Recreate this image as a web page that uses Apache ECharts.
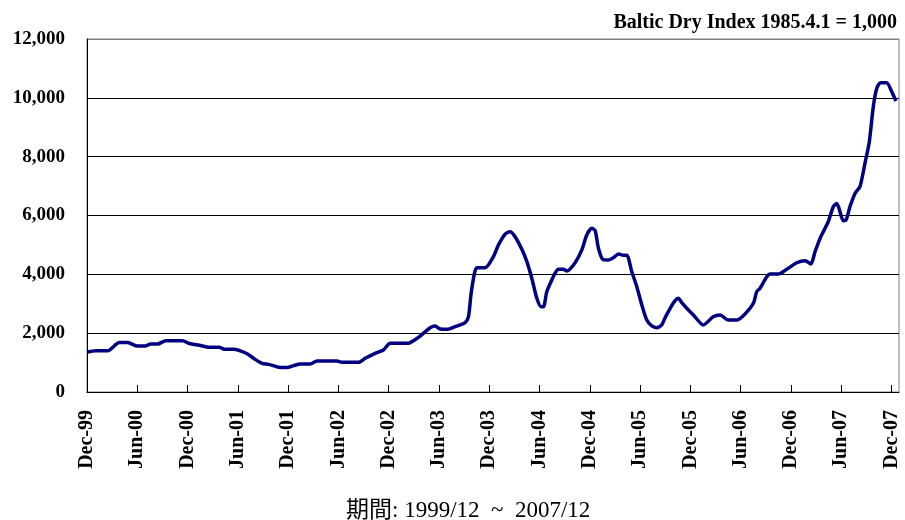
<!DOCTYPE html>
<html>
<head>
<meta charset="utf-8">
<title>Baltic Dry Index</title>
<script src="https://cdn.jsdelivr.net/npm/echarts@6/dist/echarts.min.js"></script>
<style>
  html, body { margin: 0; padding: 0; background: #fff; }
  #chart { width: 905px; height: 520px; }
</style>
</head>
<body>
<div id="chart"></div>
<script>
// x = months since Dec-99
const months = [
  0, 1.07, 2.46, 3.85, 4.84, 6.04, 6.84, 7.63, 8.42, 9.42, 11.40, 12.20, 13.40, 14.59, 15.78,
  16.38, 17.57, 18.37, 19.16, 19.96, 20.88, 21.66, 22.26, 23.06, 23.86, 24.65, 25.44, 26.64,
  27.44, 29.82, 30.42, 32.40, 33.20, 34.39, 35.38, 36.18, 38.36, 38.96, 39.76, 40.95, 41.55,
  42.15, 42.94, 43.93, 45.13, 45.52, 45.84, 46.24, 46.52, 47.51, 48.50, 49.10, 49.90, 50.49,
  51.09, 51.89, 52.49, 53.08, 53.68, 54.19, 54.47, 54.87, 55.47, 55.86, 56.26, 56.85, 57.26,
  58.25, 59.05, 59.64, 60.24, 60.64, 61.03, 61.55, 62.22, 62.82, 63.41, 64.01, 64.42, 65.01,
  65.61, 66.21, 66.80, 67.40, 68.00, 68.59, 68.99, 69.59, 70.18, 70.57, 70.98, 71.57, 72.36,
  73.55, 74.74, 75.54, 76.53, 77.54, 78.53, 79.52, 79.92, 80.32, 81.12, 81.51, 82.50, 83.50,
  84.70, 85.69, 86.37, 86.88, 87.48, 87.87, 88.46, 89.06, 89.46, 89.74, 90.25, 90.58, 91.05,
  91.65, 92.24, 92.84, 93.36, 93.83, 94.24, 94.71, 95.43, 96.03, 96.54
]
const bdi = [
  1350, 1400, 1400, 1680, 1680, 1560, 1560, 1630, 1630, 1745, 1745, 1650, 1590, 1520, 1520,
  1450, 1450, 1390, 1290, 1130, 975, 940, 895, 830, 830, 895, 950, 950,
  1055, 1055, 1010, 1010, 1145, 1315, 1430, 1655, 1655, 1745, 1900, 2185, 2245,
  2140, 2130, 2220, 2355, 2560, 3355, 4035, 4225, 4225, 4600, 5000, 5370, 5450,
  5280, 4850, 4430, 3865, 3185, 2900, 2900, 3410, 3810, 4040, 4170, 4170, 4110,
  4395, 4830, 5340, 5565, 5485, 4885, 4510, 4490, 4565, 4690, 4650, 4650, 4090,
  3580, 2955, 2445, 2245, 2185, 2280, 2525, 2845, 3105, 3185, 3035, 2845, 2620,
  2280, 2560, 2620, 2445, 2445, 2650, 3015, 3410, 3525, 3920, 4010, 4010, 4170,
  4395, 4465, 4350, 4770, 5225, 5450, 5790, 6300, 6410, 6245, 5825, 5845, 6300,
  6750, 6980, 7775, 8510, 9700, 10320, 10515, 10515, 10210, 9890
]
const tickLabels = [
  'Dec-99', 'Jun-00', 'Dec-00', 'Jun-01', 'Dec-01', 'Jun-02', 'Dec-02', 'Jun-03', 'Dec-03',
  'Jun-04', 'Dec-04', 'Jun-05', 'Dec-05', 'Jun-06', 'Dec-06', 'Jun-07', 'Dec-07'
]

const serif = '"Liberation Serif", "Times New Roman", serif'
const chart = echarts.init(document.getElementById('chart'), null, { renderer: 'canvas' })

chart.setOption({
  animation: false,
  title: [
    {
      text: 'Baltic Dry Index 1985.4.1 = 1,000',
      right: 3,
      top: 8,
      textStyle: { fontFamily: serif, fontWeight: 'bold', fontSize: 20, color: '#000' }
    },
    {
      text: '期間: 1999/12  ~  2007/12',
      left: 341,
      top: 494,
      textStyle: { fontFamily: '"Liberation Serif", "Noto Sans CJK JP", serif', fontWeight: 'normal', fontSize: 23, color: '#000' }
    }
  ],
  grid: {
    left: 87,
    right: 6,
    top: 39,
    bottom: 128,
    show: true,
    borderColor: '#808080',
    borderWidth: 1
  },
  xAxis: {
    type: 'value',
    min: 0,
    max: 96.9,
    interval: 6,
    axisLine: { lineStyle: { color: '#000', width: 1 } },
    axisTick: { show: true, inside: true, length: 7, lineStyle: { color: '#000' } },
    splitLine: { show: false },
    axisLabel: {
      rotate: 90,
      margin: 18,
      fontFamily: serif,
      fontWeight: 'bold',
      fontSize: 20,
      color: '#000',
      showMaxLabel: false,
      formatter: function (v) {
        const i = v / 6
        return Number.isInteger(i) && tickLabels[i] ? tickLabels[i] : ''
      }
    }
  },
  yAxis: {
    type: 'value',
    min: 0,
    max: 12000,
    interval: 2000,
    axisLine: { show: true, lineStyle: { color: '#000', width: 1 } },
    axisTick: { show: false },
    splitLine: {
      lineStyle: { color: ['#000', '#000', '#000', '#000', '#000', '#000', '#808080'], width: 1 }
    },
    axisLabel: {
      margin: 22,
      fontFamily: serif,
      fontWeight: 'bold',
      fontSize: 19,
      color: '#000',
      formatter: function (v) {
        return v.toLocaleString('en-US')
      }
    }
  },
  series: [{
    name: 'BDI',
    type: 'line',
    data: months.map(function (m, i) { return [m, bdi[i]] }),
    showSymbol: false,
    smooth: 0.25,
    lineStyle: { color: '#000080', width: 3.5 }
  }]
})
</script>
</body>
</html>
